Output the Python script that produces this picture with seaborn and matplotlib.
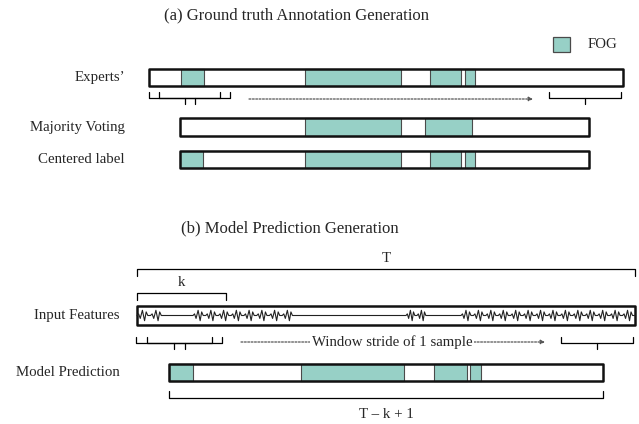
import matplotlib
matplotlib.use("Agg")
import matplotlib.pyplot as plt
import pandas as pd
import seaborn as sns

# ---- data (time in samples; the input window covers T samples) ----
T_SAMPLES = 498
K_WINDOW = 89

experts_span = (12, 486)
experts_fog = [(44, 67), (168, 264), (293, 324), (328, 338)]

majority_span = (43, 452)
majority_fog = [(168, 264), (288, 335)]

centered_span = (43, 452)
centered_fog = [(43, 66), (168, 264), (293, 324), (328, 338)]

prediction_span = (32, 466)
prediction_fog = [(32, 56), (164, 267), (297, 330), (333, 344)]

# stretches of the input signal with gait activity (flat = freezing)
active_signal = [(0, 27), (56, 158), (269, 291), (324, 498)]

# one spike glyph of the sensor trace
glyph_x = [0, 1.5, 3.0, 5.0, 7.0, 8.5, 10.0, 12.5]
glyph_y = [0, 0.25, -0.45, 0.8, -0.8, 0.55, 0, 0]

row_labels = ["Experts\u2019", "Majority Voting", "Centered label",
              "Input Features", "Model Prediction"]

FOG_COLOR = "#97d0c6"
FOG_EDGE = "#4a4a4a"

sns.set_theme(style="white")
plt.rcParams["font.family"] = ["Liberation Serif", "DejaVu Serif"]

fig = plt.figure(figsize=(6.39, 4.24), dpi=100)
ax = fig.add_axes([0, 0, 1, 1])
X0 = 137

LABEL_FS = 10.7
TITLE_FS = 12


def track(y_top, h, span, fog, label, label_x):
    ax.broken_barh([(span[0], span[1] - span[0])], (y_top, h),
                   facecolor="white", edgecolor="none", zorder=1)
    ax.broken_barh([(a, b - a) for a, b in fog], (y_top, h),
                   facecolor=FOG_COLOR, edgecolor=FOG_EDGE, linewidth=0.8,
                   zorder=2)
    ax.broken_barh([(span[0], span[1] - span[0])], (y_top, h),
                   facecolor="none", edgecolor="#111111", linewidth=1.8,
                   zorder=3)
    ax.text(label_x, y_top + h / 2, label, ha="right", va="center",
            fontsize=LABEL_FS)


def bracket_down(x0, x1, y, depth):
    # opening downward: ends hang below the bar line
    ax.plot([x0, x0, x1, x1], [y + depth, y, y, y + depth], color="black",
            lw=0.9)


def bracket_up(x0, x1, y, depth, tick=6):
    # opening upward with a stem from the centre
    ax.plot([x0, x0, x1, x1], [y - depth, y, y, y - depth], color="black",
            lw=0.9)
    xm = (x0 + x1) / 2
    ax.plot([xm, xm], [y, y + tick], color="black", lw=0.9)


def dotted_arrow(x0, x1, y):
    ax.annotate("", xy=(x1, y), xytext=(x0, y),
                arrowprops=dict(arrowstyle="-|>", color="#555555", lw=0.9,
                                linestyle=(0, (1.5, 1.2)), mutation_scale=6,
                                shrinkA=0, shrinkB=0))


# ---------------- (a) ground truth annotation ----------------
ax.text(297 - X0, 15, "(a) Ground truth Annotation Generation",
        ha="center", va="center", fontsize=TITLE_FS)
ax.add_patch(plt.Rectangle((553 - X0, 37), 17, 15, facecolor=FOG_COLOR,
                           edgecolor=FOG_EDGE, lw=0.9))
ax.text(588 - X0, 44.5, "FOG", ha="left", va="center", fontsize=LABEL_FS)

track(69, 17, experts_span, experts_fog, row_labels[0], 125 - X0)
w = 71
bracket_up(experts_span[0], experts_span[0] + w, 98, 6)
bracket_up(experts_span[0] + 10, experts_span[0] + 10 + w, 98, 6)
bracket_up(412, 484, 98, 6)
dotted_arrow(112, 396, 99)

track(118, 18, majority_span, majority_fog, row_labels[1], 125 - X0)
track(151, 17, centered_span, centered_fog, row_labels[2], 125 - X0)

# ---------------- (b) model prediction ----------------
ax.text(290 - X0, 228, "(b) Model Prediction Generation",
        ha="center", va="center", fontsize=TITLE_FS)

bracket_down(0, T_SAMPLES, 269, 7)
ax.text(T_SAMPLES / 2, 258, "T", ha="center", va="center", fontsize=LABEL_FS)
bracket_down(0, K_WINDOW, 293, 7)
ax.text(K_WINDOW / 2, 283, "k", ha="center", va="center", fontsize=LABEL_FS)

# input signal track
in_top, in_h = 306, 19
ax.broken_barh([(0, T_SAMPLES)], (in_top, in_h), facecolor="white",
               edgecolor="#111111", linewidth=1.8, zorder=3)
mid = in_top + in_h / 2
amp = 6.5
xs, ys = [0.0], [mid]
for a, b in active_signal:
    xs.append(a)
    ys.append(mid)
    n = max(int(round((b - a) / glyph_x[-1])), 1)
    scale = (b - a) / (n * glyph_x[-1])
    for i in range(n):
        base = a + i * glyph_x[-1] * scale
        for gx, gy in zip(glyph_x[1:], glyph_y[1:]):
            xs.append(base + gx * scale)
            ys.append(mid - gy * amp)
wave = pd.DataFrame({"t": xs, "v": ys})
sns.lineplot(data=wave, x="t", y="v", sort=False, estimator=None,
             color="#222222", lw=0.8, ax=ax, zorder=4)
ax.text(120 - X0, mid, row_labels[3], ha="right", va="center",
        fontsize=LABEL_FS)

bracket_up(-1, 75, 343, 6)
bracket_up(10, 85, 343, 6)
bracket_up(424, 496, 343, 6)
ax.text(255, 342, "Window stride of 1 sample", ha="center", va="center",
        fontsize=LABEL_FS, bbox=dict(facecolor="white", edgecolor="none",
                                     pad=1.5), zorder=5)
dotted_arrow(104, 408, 342)

track(364, 17, prediction_span, prediction_fog, row_labels[4], 120 - X0)
ax.plot([prediction_span[0], prediction_span[0], prediction_span[1],
         prediction_span[1]], [391, 398, 398, 391], color="black", lw=0.9)
ax.text(sum(prediction_span) / 2, 414, "T \u2013 k + 1", ha="center",
        va="center", fontsize=LABEL_FS)

ax.set_xlim(-X0, 639 - X0)
ax.set_ylim(424, 0)
ax.axis("off")

fig.savefig("out.png", dpi=100)
